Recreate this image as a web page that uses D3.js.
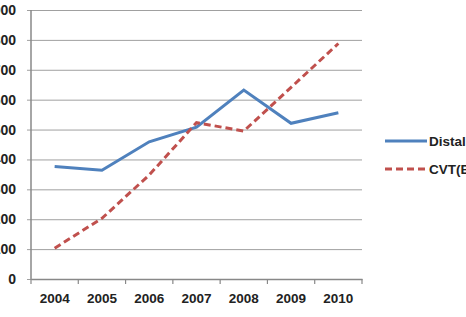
<!DOCTYPE html>
<html>
<head>
<meta charset="utf-8">
<script src="https://cdn.jsdelivr.net/npm/d3@7"></script>
<style>
  body { margin: 0; background: #fff; overflow: hidden; }
  text { font-family: "Liberation Sans", Arial, sans-serif; font-weight: bold; fill: #222; }
</style>
</head>
<body>
<div id="chart"></div>
<script>
const years = ["2004", "2005", "2006", "2007", "2008", "2009", "2010"];
const distal = [376, 364, 459, 508, 632, 521, 556];
const cvt = [103, 203, 348, 523, 495, 641, 788];
const yTicks = [0, 100, 200, 300, 400, 500, 600, 700, 800, 900];
const seriesNames = ["Distal DVT", "CVT(BL)"];

const width = 466, height = 317;
const plot = {left: 31, right: 362, top: 10, bottom: 279};

const svg = d3.select("#chart").append("svg")
  .attr("width", width)
  .attr("height", height);

const x = d3.scaleBand()
  .domain(years)
  .range([plot.left, plot.right])
  .padding(0);

const y = d3.scaleLinear()
  .domain([0, 900])
  .range([plot.bottom, plot.top]);

// gridlines + y labels (left part cut off by the window edge, as in the original)
const yAxis = svg.append("g")
  .attr("transform", "translate(" + plot.left + ",0)")
  .call(d3.axisLeft(y).tickValues(yTicks).tickSize(-(plot.right - plot.left)));
yAxis.select(".domain").remove();
yAxis.selectAll(".tick line").attr("stroke", "#a0a0a0").attr("x1", -4);
yAxis.selectAll(".tick text").attr("font-size", "14px").attr("x", -15);

// y axis line
svg.append("line")
  .attr("x1", plot.left).attr("x2", plot.left)
  .attr("y1", y(900)).attr("y2", y(0))
  .attr("stroke", "#888").attr("stroke-width", 1.5);

// x axis
const xAxis = svg.append("g")
  .attr("transform", "translate(0," + y(0) + ")")
  .call(d3.axisBottom(x).tickSize(0).tickPadding(14));
xAxis.select(".domain").attr("stroke", "#888").attr("stroke-width", 1.5);
xAxis.selectAll(".tick text").attr("font-size", "13.5px");

// boundary ticks
const edges = years.map(d => x(d)).concat([x(years[years.length - 1]) + x.bandwidth()]);
svg.append("g").selectAll("line")
  .data(edges)
  .join("line")
    .attr("x1", d => d).attr("x2", d => d)
    .attr("y1", y(0)).attr("y2", y(0) + 5)
    .attr("stroke", "#888").attr("stroke-width", 1.2);

const line = d3.line()
  .x((d, i) => x(years[i]) + x.bandwidth() / 2)
  .y(d => y(d));

svg.append("path")
  .datum(distal)
  .attr("d", line)
  .attr("fill", "none")
  .attr("stroke", "#4f81bd")
  .attr("stroke-width", 3);

svg.append("path")
  .datum(cvt)
  .attr("d", line)
  .attr("fill", "none")
  .attr("stroke", "#c0504d")
  .attr("stroke-width", 3)
  .attr("stroke-dasharray", "7,4");

// legend
const legend = svg.append("g");
const legendY = [141, 169];
const legendStyle = [
  {color: "#4f81bd", dash: null},
  {color: "#c0504d", dash: "7,4"}
];
seriesNames.forEach(function(name, i) {
  legend.append("line")
    .attr("x1", 385).attr("x2", 427)
    .attr("y1", legendY[i]).attr("y2", legendY[i])
    .attr("stroke", legendStyle[i].color)
    .attr("stroke-width", 3)
    .attr("stroke-dasharray", legendStyle[i].dash);
  legend.append("text")
    .attr("x", 429)
    .attr("y", legendY[i])
    .attr("dy", "0.35em")
    .attr("font-size", "13.5px")
    .text(name);
});
</script>
</body>
</html>
